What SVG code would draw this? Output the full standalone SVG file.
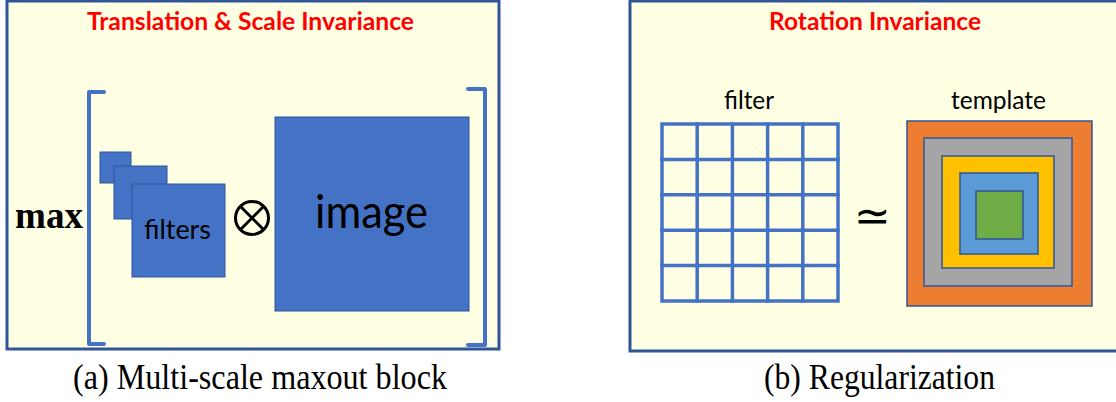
<svg xmlns="http://www.w3.org/2000/svg" width="1116" height="402" viewBox="0 0 1116 402">
  <style>
    .panel { fill: #ffffe4; stroke: #2f5597; stroke-width: 3; }
    .title { font-family: Lato, "Open Sans", sans-serif; font-weight: bold; font-size: 25px; fill: #ff0000; }
    .label { font-family: Lato, "Open Sans", sans-serif; fill: #000000; }
    .caption { font-family: "Liberation Serif", "Times New Roman", serif; font-size: 35px; fill: #000000; }
    .blk { fill: #4472c4; stroke: #2f5597; stroke-width: 1; }
    .bracket { fill: none; stroke: #4472c4; stroke-width: 4; stroke-linecap: round; stroke-linejoin: round; }
    .grid { fill: none; stroke: #4472c4; stroke-width: 3.5; stroke-linecap: square; }
    .ring { stroke: #2f5597; stroke-width: 1.5; }
  </style>

  <rect width="1116" height="402" fill="#ffffff"/>

  <!-- Panel (a): multi-scale maxout block -->
  <g id="panel-a">
    <rect class="panel" x="7" y="1" width="492" height="348"/>
    <text class="title" x="87" y="30" textLength="327" lengthAdjust="spacingAndGlyphs">Translation &amp; Scale Invariance</text>
  </g>

  <g id="max-op">
    <text x="15" y="228" font-family="'Liberation Serif', serif" font-weight="bold" font-size="38" textLength="68" lengthAdjust="spacingAndGlyphs">max</text>
    <path class="bracket" d="M104,92 H89 V344 H104"/>
    <path class="bracket" d="M468,89 H485 V345 H468"/>
  </g>

  <g id="filters">
    <rect class="blk" x="100" y="152" width="31" height="31"/>
    <rect class="blk" x="114" y="166" width="53" height="53"/>
    <rect class="blk" x="132" y="184" width="93" height="93"/>
    <text class="label" x="144" y="239" font-size="27" textLength="67" lengthAdjust="spacingAndGlyphs">filters</text>
  </g>

  <g id="conv-op" fill="none" stroke="#000000" stroke-width="3">
    <circle cx="252" cy="218" r="16.5"/>
    <line x1="240.3" y1="206.3" x2="263.7" y2="229.7"/>
    <line x1="263.7" y1="206.3" x2="240.3" y2="229.7"/>
  </g>

  <g id="image">
    <rect class="blk" x="275" y="117" width="194" height="194"/>
    <text class="label" x="315" y="228" font-size="47" textLength="113" lengthAdjust="spacingAndGlyphs">image</text>
  </g>

  <!-- Panel (b): regularization -->
  <g id="panel-b">
    <rect class="panel" x="630" y="1" width="500" height="350"/>
    <text class="title" x="769" y="30" textLength="212" lengthAdjust="spacingAndGlyphs">Rotation Invariance</text>
  </g>

  <g id="filter-grid">
    <text class="label" x="724" y="109" font-size="25" textLength="50" lengthAdjust="spacingAndGlyphs">filter</text>
    <rect class="grid" x="662" y="124" width="176" height="177"/>
    <path class="grid" d="M697.2,124 V301 M732.4,124 V301 M767.6,124 V301 M802.8,124 V301 M662,159.4 H838 M662,194.8 H838 M662,230.2 H838 M662,265.6 H838"/>
  </g>

  <g id="approx">
    <text x="872.5" y="231" font-family="'DejaVu Sans', sans-serif" font-size="44" text-anchor="middle">≃</text>
  </g>

  <g id="template">
    <text class="label" x="951" y="109" font-size="25" textLength="95" lengthAdjust="spacingAndGlyphs">template</text>
    <rect class="ring" x="907" y="121" width="185" height="185" fill="#ed7d31"/>
    <rect class="ring" x="924" y="138" width="148" height="148" fill="#a5a5a5"/>
    <rect class="ring" x="942" y="156" width="112" height="112" fill="#ffc000"/>
    <rect class="ring" x="960" y="173" width="78" height="81" fill="#5b9bd5"/>
    <rect class="ring" x="976" y="191" width="47" height="48" fill="#70ad47"/>
  </g>

  <!-- Captions -->
  <g id="captions">
    <text class="caption" x="73" y="389" textLength="374" lengthAdjust="spacingAndGlyphs">(a) Multi-scale maxout block</text>
    <text class="caption" x="764" y="389" textLength="231" lengthAdjust="spacingAndGlyphs">(b) Regularization</text>
  </g>
</svg>
